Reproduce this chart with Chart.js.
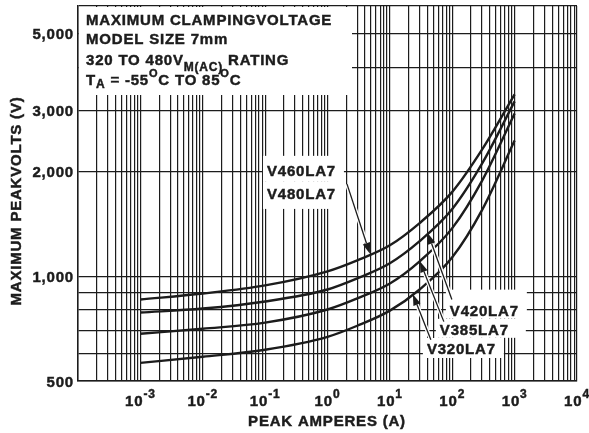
<!DOCTYPE html>
<html>
<head>
<meta charset="utf-8">
<script src="https://cdn.jsdelivr.net/npm/chart.js@4.4.1/dist/chart.umd.min.js"></script>
<style>
  html, body { margin: 0; padding: 0; background: #fff; }
</style>
</head>
<body>
<canvas id="chart" width="589" height="433"></canvas>
<script>
// Courant crête (A) et tension max de clamping (V)
const current = [0.001, 0.01, 0.1, 1, 3, 10, 30, 100, 300, 1000]
const v480 = [858, 893, 942, 1034, 1112, 1229, 1424, 1751, 2316, 3341]
const v420 = [787, 808, 847, 917, 987, 1091, 1263, 1563, 2110, 3188]
const v385 = [684, 707, 736, 803, 864, 954, 1105, 1377, 1884, 2944]
const v320 = [564, 587, 615, 670, 721, 797, 917, 1135, 1552, 2459]

// Graduations
const xDecades = [-3, -2, -1, 0, 1, 2, 3, 4]
const yTickLabels = [500, 1000, 2000, 3000, 5000]
const yGrid = [500, 600, 700, 800, 900, 1000, 2000, 3000, 4000, 5000, 6000]
const xGrid = []
for (let n = -4; n < 4; n++) {
  for (let k = 1; k <= 9; k++) xGrid.push(k * Math.pow(10, n))
}
xGrid.push(1e4)

const INK = "#1c1c1c"
const FONT = '"Liberation Sans", Arial, sans-serif'

// Etiquettes des courbes (ancre en coordonnées données)
const curveLabels = [
  { text: "V460LA7", at: [0.107, 1947], pad: [4, 20, 8, 6] },
  { text: "V480LA7", at: [0.107, 1671], pad: [4, 17, 8, 10] },
  { text: "V420LA7", at: [91.6, 771], pad: [4, 26, 8, 3] },
  { text: "V385LA7", at: [63.3, 679], pad: [4, 16, 17, 3] },
  { text: "V320LA7", at: [39.2, 598], pad: [4, 16, 8, 4] },
]
const arrows = [
  { from: [2.05, 1846], to: [4.78, 1162] },
  { from: [98.6, 858], to: [40.6, 1332] },
  { from: [73.3, 741], to: [30.3, 1105] },
  { from: [45.4, 657], to: [23.4, 888] },
]

function setFont(ctx, size) {
  ctx.font = `bold ${size}px ${FONT}`
  ctx.letterSpacing = "0.8px"
}

// texte un peu plus gras, comme sur l'original
function boldText(ctx, s, x, y) {
  ctx.fillText(s, x, y)
  ctx.strokeText(s, x, y)
}

function drawRuns(ctx, x, y, runs) {
  runs.forEach((r) => {
    setFont(ctx, r.size || 15)
    boldText(ctx, r.t, x, y + (r.dy || 0))
    x += ctx.measureText(r.t).width
  })
  return x
}

function runsWidth(ctx, runs) {
  let w = 0
  runs.forEach((r) => {
    setFont(ctx, r.size || 15)
    w += ctx.measureText(r.t).width
  })
  return w
}

function px(chart, p) {
  return [chart.scales.x.getPixelForValue(p[0]), chart.scales.y.getPixelForValue(p[1])]
}

const annotations = {
  id: "annotations",
  beforeDatasetsDraw(chart) {
    const ctx = chart.ctx
    const area = chart.chartArea
    ctx.save()
    ctx.fillStyle = "#fff"
    // cadre du titre
    ctx.fillRect(area.left + 1, area.top + 1, 352 - area.left - 1, 95 - area.top - 1)
    // fonds des étiquettes
    curveLabels.forEach((l) => {
      const [x, y] = px(chart, l.at)
      setFont(ctx, 15)
      const w = ctx.measureText(l.text).width
      ctx.fillRect(x - l.pad[0], y - l.pad[1], w + l.pad[0] + l.pad[2], l.pad[1] + l.pad[3])
    })
    ctx.restore()
  },
  afterDatasetsDraw(chart) {
    const ctx = chart.ctx
    ctx.save()
    arrows.forEach((a) => {
      const [x1, y1] = px(chart, a.from)
      const [x2, y2] = px(chart, a.to)
      const ang = Math.atan2(y2 - y1, x2 - x1)
      const hl = 11
      const bx = x2 - hl * Math.cos(ang)
      const by = y2 - hl * Math.sin(ang)
      // halo blanc
      ctx.strokeStyle = "#fff"
      ctx.lineWidth = 4
      ctx.beginPath()
      ctx.moveTo(x1, y1)
      ctx.lineTo(bx, by)
      ctx.stroke()
      ctx.strokeStyle = INK
      ctx.lineWidth = 1.3
      ctx.beginPath()
      ctx.moveTo(x1, y1)
      ctx.lineTo(bx, by)
      ctx.stroke()
      ctx.fillStyle = INK
      ctx.beginPath()
      ctx.moveTo(x2, y2)
      ctx.lineTo(bx + 3.8 * Math.sin(ang), by - 3.8 * Math.cos(ang))
      ctx.lineTo(bx - 3.8 * Math.sin(ang), by + 3.8 * Math.cos(ang))
      ctx.closePath()
      ctx.fill()
    })
    ctx.fillStyle = INK
    ctx.strokeStyle = INK
    ctx.lineWidth = 0.45
    ctx.textBaseline = "alphabetic"
    ctx.textAlign = "left"
    curveLabels.forEach((l) => {
      const [x, y] = px(chart, l.at)
      setFont(ctx, 15)
      boldText(ctx, l.text, x, y)
    })
    ctx.restore()
  },
  afterDraw(chart) {
    const ctx = chart.ctx
    const xs = chart.scales.x
    const ys = chart.scales.y
    ctx.save()
    ctx.fillStyle = INK
    ctx.strokeStyle = INK
    ctx.lineWidth = 0.45
    ctx.textBaseline = "alphabetic"
    ctx.textAlign = "left"

    // texte du cadre
    drawRuns(ctx, 86, 25, [{ t: "MAXIMUM CLAMPINGVOLTAGE" }])
    drawRuns(ctx, 86, 44, [{ t: "MODEL SIZE 7mm" }])
    drawRuns(ctx, 86, 65, [{ t: "320 TO 480V" }, { t: "M(AC)", size: 12, dy: 6 }, { t: " RATING" }])
    drawRuns(ctx, 86, 85, [
      { t: "T" }, { t: "A", size: 12, dy: 3 }, { t: " = -55" }, { t: "O", size: 11, dy: -8 },
      { t: "C TO 85" }, { t: "O", size: 11, dy: -8 }, { t: "C" },
    ])

    // graduations x (puissances de 10)
    xDecades.forEach((d) => {
      const runs = [{ t: "10" }, { t: String(d), size: 12, dy: -8 }]
      const w = runsWidth(ctx, runs)
      drawRuns(ctx, xs.getPixelForValue(Math.pow(10, d)) - w / 2, 406, runs)
    })

    // graduations y
    yTickLabels.forEach((v) => {
      setFont(ctx, 15)
      const s = v.toLocaleString("en-US")
      const w = ctx.measureText(s).width
      boldText(ctx, s, 74 - w, ys.getPixelForValue(v) + 5.5)
    })

    // titres des axes
    setFont(ctx, 15)
    let t = "PEAK AMPERES (A)"
    boldText(ctx, t, 327 - ctx.measureText(t).width / 2, 426)
    t = "MAXIMUM PEAKVOLTS (V)"
    ctx.translate(21, 201)
    ctx.rotate(-Math.PI / 2)
    boldText(ctx, t, -ctx.measureText(t).width / 2, 0)
    ctx.restore()
  },
}

function line(values) {
  return {
    data: current.map((c, i) => ({ x: c, y: values[i] })),
    borderColor: INK,
    borderWidth: 2.4,
    pointRadius: 0,
    fill: false,
    cubicInterpolationMode: "monotone",
  }
}

new Chart(document.getElementById("chart").getContext("2d"), {
  type: "line",
  data: {
    datasets: [line(v480), line(v420), line(v385), line(v320)],
  },
  options: {
    responsive: false,
    animation: false,
    devicePixelRatio: 1,
    layout: { padding: { left: 0, right: 12, top: 6, bottom: 0 } },
    plugins: { legend: { display: false }, tooltip: { enabled: false } },
    scales: {
      x: {
        type: "logarithmic",
        min: 1e-4,
        max: 1e4,
        afterBuildTicks: (scale) => {
          scale.ticks = xGrid.map((v) => ({ value: v }))
        },
        afterFit: (scale) => {
          scale.height = 52
        },
        ticks: { display: false },
        grid: { color: INK, lineWidth: 1.2, drawTicks: false },
        border: { display: true, color: INK, width: 1.5 },
      },
      y: {
        type: "logarithmic",
        min: 500,
        max: 6000,
        afterBuildTicks: (scale) => {
          scale.ticks = yGrid.map((v) => ({ value: v }))
        },
        afterFit: (scale) => {
          scale.width = 78
        },
        ticks: { display: false },
        grid: { color: INK, lineWidth: 1.2, drawTicks: false },
        border: { display: true, color: INK, width: 1.5 },
      },
    },
  },
  plugins: [annotations],
})
</script>
</body>
</html>
